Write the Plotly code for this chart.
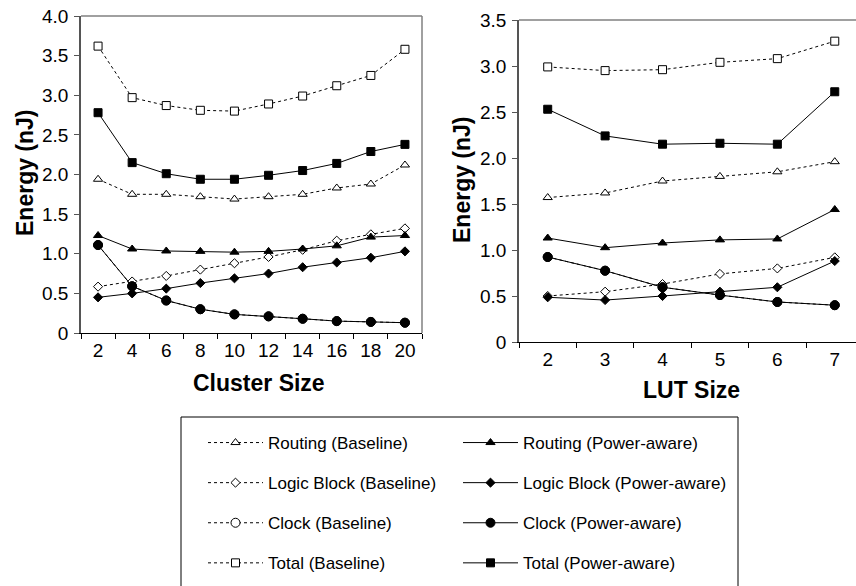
import plotly.graph_objects as go

# ---------------- data ----------------
cluster_sizes = ["2", "4", "6", "8", "10", "12", "14", "16", "18", "20"]
cl_routing_base = [1.94, 1.75, 1.75, 1.72, 1.69, 1.72, 1.75, 1.83, 1.88, 2.12]
cl_routing_pa = [1.23, 1.06, 1.035, 1.03, 1.02, 1.03, 1.06, 1.10, 1.21, 1.23]
cl_logic_base = [0.585, 0.65, 0.72, 0.80, 0.88, 0.96, 1.05, 1.165, 1.245, 1.32]
cl_logic_pa = [0.45, 0.50, 0.56, 0.63, 0.69, 0.75, 0.83, 0.89, 0.95, 1.03]
cl_clock_base = [1.11, 0.59, 0.41, 0.30, 0.235, 0.21, 0.18, 0.15, 0.14, 0.13]
cl_clock_pa = [1.11, 0.59, 0.41, 0.30, 0.235, 0.21, 0.18, 0.15, 0.14, 0.13]
cl_total_base = [3.62, 2.97, 2.87, 2.81, 2.80, 2.89, 2.99, 3.12, 3.25, 3.58]
cl_total_pa = [2.78, 2.15, 2.01, 1.94, 1.94, 1.99, 2.05, 2.14, 2.29, 2.38]

lut_sizes = ["2", "3", "4", "5", "6", "7"]
lut_routing_base = [1.57, 1.62, 1.75, 1.80, 1.85, 1.96]
lut_routing_pa = [1.13, 1.025, 1.076, 1.11, 1.12, 1.44]
lut_logic_base = [0.50, 0.547, 0.63, 0.74, 0.80, 0.92]
lut_logic_pa = [0.486, 0.456, 0.50, 0.547, 0.595, 0.88]
lut_clock_base = [0.924, 0.775, 0.595, 0.51, 0.435, 0.40]
lut_clock_pa = [0.924, 0.775, 0.595, 0.51, 0.435, 0.40]
lut_total_base = [2.99, 2.95, 2.96, 3.04, 3.08, 3.27]
lut_total_pa = [2.53, 2.24, 2.15, 2.16, 2.15, 2.72]

left_ytick_vals = [0, 0.5, 1.0, 1.5, 2.0, 2.5, 3.0, 3.5, 4.0]
left_ytick_text = ["0", "0.5", "1.0", "1.5", "2.0", "2.5", "3.0", "3.5", "4.0"]
right_ytick_vals = [0, 0.5, 1.0, 1.5, 2.0, 2.5, 3.0, 3.5]
right_ytick_text = ["0", "0.5", "1.0", "1.5", "2.0", "2.5", "3.0", "3.5"]

series = [
    # name, left values, right values, symbol, baseline?
    ("Routing (Baseline)", cl_routing_base, lut_routing_base, "triangle-up", True),
    ("Logic Block (Baseline)", cl_logic_base, lut_logic_base, "diamond", True),
    ("Clock (Baseline)", cl_clock_base, lut_clock_base, "circle", True),
    ("Total (Baseline)", cl_total_base, lut_total_base, "square", True),
    ("Routing (Power-aware)", cl_routing_pa, lut_routing_pa, "triangle-up", False),
    ("Logic Block (Power-aware)", cl_logic_pa, lut_logic_pa, "diamond", False),
    ("Clock (Power-aware)", cl_clock_pa, lut_clock_pa, "circle", False),
    ("Total (Power-aware)", cl_total_pa, lut_total_pa, "square", False),
]

FONT = "Liberation Sans, Arial, sans-serif"
W, H = 856, 586

sizes = {"triangle-up": 8, "diamond": 7, "circle": 9, "square": 8}

fig = go.Figure()
for name, lv, rv, sym, base in series:
    marker = dict(symbol=sym, size=sizes[sym],
                  color="white" if base else "black",
                  line=dict(color="black", width=1))
    line = dict(color="black", width=1, dash="dot" if base else "solid")
    leg = "legend" if base else "legend2"
    fig.add_trace(go.Scatter(x=cluster_sizes, y=lv, mode="lines+markers", name=name,
                             marker=marker, line=line, legendgroup=name, legend=leg,
                             xaxis="x", yaxis="y", showlegend=True))
    fig.add_trace(go.Scatter(x=lut_sizes, y=rv, mode="lines+markers", name=name,
                             marker=marker, line=line, legendgroup=name, legend=leg,
                             xaxis="x2", yaxis="y2", showlegend=False))

tickfont = dict(family=FONT, size=19, color="black")
legfont = dict(family=FONT, size=17, color="black")
fig.update_layout(
    width=W, height=H,
    margin=dict(l=0, r=0, t=0, b=0, autoexpand=False),
    paper_bgcolor="white", plot_bgcolor="white",
    font=dict(family=FONT, color="black"),
    xaxis=dict(domain=[81 / W, 422 / W], type="category", range=[-0.5, 9.5],
               anchor="y", showline=True, linecolor="black", linewidth=1,
               ticks="outside", tickson="boundaries", ticklen=5, tickcolor="black",
               tickfont=tickfont, showgrid=False, zeroline=False),
    yaxis=dict(domain=[(H - 333) / H, (H - 16) / H], range=[0, 4.0], anchor="x",
               tickvals=left_ytick_vals, ticktext=left_ytick_text,
               showline=True, linecolor="#555555", linewidth=1.5,
               ticks="outside", ticklen=5, tickcolor="#555555", ticklabelstandoff=2,
               tickfont=tickfont, showgrid=False, zeroline=False),
    xaxis2=dict(domain=[519 / W, 1.0], type="category", range=[-0.5, 5.37],
                anchor="y2", showline=True, linecolor="black", linewidth=1,
                ticks="outside", tickson="boundaries", ticklen=5, tickcolor="black",
                tickfont=tickfont, showgrid=False, zeroline=False),
    yaxis2=dict(domain=[(H - 342) / H, (H - 20) / H], range=[0, 3.5], anchor="x2",
                tickvals=right_ytick_vals, ticktext=right_ytick_text,
                showline=True, linecolor="#555555", linewidth=1.5,
                ticks="outside", ticklen=5, tickcolor="#555555", ticklabelstandoff=2,
                tickfont=tickfont, showgrid=False, zeroline=False),
    legend=dict(x=203 / W, y=(H - 425) / H, xanchor="left", yanchor="top",
                orientation="v", bgcolor="rgba(0,0,0,0)", borderwidth=0,
                font=legfont, itemwidth=55,
                tracegroupgap=15, itemclick=False, itemdoubleclick=False),
    legend2=dict(x=458 / W, y=(H - 425) / H, xanchor="left", yanchor="top",
                 orientation="v", bgcolor="rgba(0,0,0,0)", borderwidth=0,
                 font=legfont, itemwidth=55,
                 tracegroupgap=15, itemclick=False, itemdoubleclick=False),
    showlegend=True,
)

# plot-area borders (top/right grey)
border = dict(color="#808080", width=1.5)
fig.add_shape(type="line", xref="x domain", yref="y domain", x0=0, x1=1, y0=1, y1=1, line=border)
fig.add_shape(type="line", xref="x domain", yref="y domain", x0=1, x1=1, y0=0, y1=1, line=border)
fig.add_shape(type="line", xref="x2 domain", yref="y2 domain", x0=0, x1=1, y0=1, y1=1, line=border)
# legend frame
fig.add_shape(type="rect", xref="paper", yref="paper", x0=181 / W, x1=738 / W,
              y0=-0.05, y1=(H - 417) / H, line=dict(color="black", width=1))

titlefont = dict(family=FONT, size=23, color="black")
ann = dict(xref="paper", yref="paper", showarrow=False, font=titlefont,
           xanchor="center", yanchor="middle")
fig.add_annotation(text="<b>Energy (nJ)</b>", x=25 / W, y=(H - 173) / H, textangle=-90, **ann)
fig.add_annotation(text="<b>Energy (nJ)</b>", x=462 / W, y=(H - 180) / H, textangle=-90, **ann)
fig.add_annotation(text="<b>Cluster Size</b>", x=259 / W, y=(H - 383) / H, **ann)
fig.add_annotation(text="<b>LUT Size</b>", x=691 / W, y=(H - 390) / H, **ann)

fig.write_html("out.html", config={"displayModeBar": False},
               post_script="document.body.style.margin='0';document.body.style.overflow='hidden';")
